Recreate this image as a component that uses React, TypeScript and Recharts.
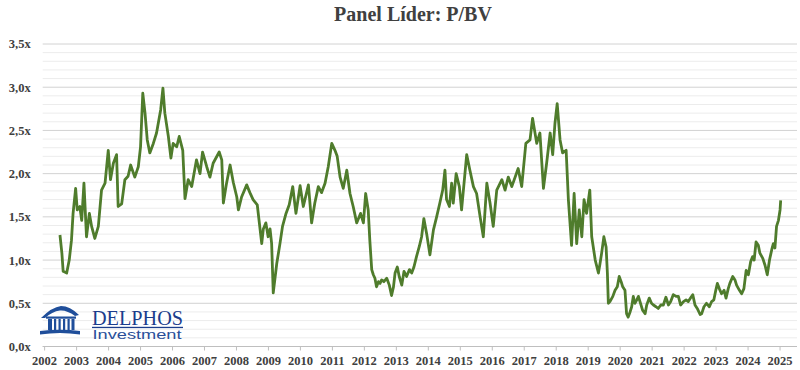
import React from 'react';
import { LineChart, Line, XAxis, YAxis, CartesianGrid } from 'recharts';

const dates: number[] = [
  2002.48, 2002.54, 2002.58, 2002.69, 2002.77, 2002.84, 2002.89, 2002.97, 2003.02, 2003.10,
  2003.16, 2003.23, 2003.31, 2003.40, 2003.47, 2003.57, 2003.68, 2003.78, 2003.89, 2003.99,
  2004.06, 2004.15, 2004.25, 2004.30, 2004.41, 2004.51, 2004.61, 2004.69, 2004.82, 2004.93,
  2005.00, 2005.07, 2005.14, 2005.21, 2005.29, 2005.40, 2005.50, 2005.63, 2005.70, 2005.76,
  2005.87, 2005.95, 2006.02, 2006.13, 2006.21, 2006.32, 2006.39, 2006.49, 2006.60, 2006.75,
  2006.86, 2006.94, 2007.07, 2007.17, 2007.27, 2007.46, 2007.54, 2007.59, 2007.69, 2007.80,
  2007.90, 2008.01, 2008.06, 2008.16, 2008.32, 2008.42, 2008.52, 2008.65, 2008.79, 2008.84,
  2008.92, 2008.99, 2009.05, 2009.10, 2009.15, 2009.26, 2009.36, 2009.44, 2009.55, 2009.65,
  2009.76, 2009.86, 2009.99, 2010.09, 2010.25, 2010.35, 2010.45, 2010.56, 2010.66, 2010.77,
  2010.87, 2010.98, 2011.08, 2011.15, 2011.24, 2011.34, 2011.45, 2011.55, 2011.65, 2011.76,
  2011.88, 2011.97, 2012.04, 2012.12, 2012.17, 2012.23, 2012.28, 2012.33, 2012.38, 2012.44,
  2012.49, 2012.54, 2012.61, 2012.70, 2012.78, 2012.85, 2012.91, 2012.96, 2013.03, 2013.09,
  2013.17, 2013.24, 2013.32, 2013.41, 2013.48, 2013.55, 2013.63, 2013.72, 2013.79, 2013.86,
  2013.95, 2014.05, 2014.16, 2014.26, 2014.36, 2014.45, 2014.52, 2014.57, 2014.66, 2014.73,
  2014.78, 2014.87, 2014.97, 2015.04, 2015.20, 2015.30, 2015.41, 2015.51, 2015.62, 2015.72,
  2015.83, 2015.93, 2016.03, 2016.14, 2016.30, 2016.40, 2016.50, 2016.61, 2016.81, 2016.92,
  2017.05, 2017.18, 2017.26, 2017.39, 2017.49, 2017.60, 2017.70, 2017.81, 2017.89, 2017.96,
  2018.03, 2018.12, 2018.20, 2018.31, 2018.38, 2018.48, 2018.56, 2018.64, 2018.72, 2018.80,
  2018.87, 2018.95, 2019.05, 2019.11, 2019.22, 2019.32, 2019.37, 2019.42, 2019.49, 2019.56,
  2019.60, 2019.63, 2019.68, 2019.77, 2019.84, 2019.91, 2019.97, 2020.03, 2020.08, 2020.15,
  2020.20, 2020.25, 2020.31, 2020.36, 2020.41, 2020.46, 2020.52, 2020.57, 2020.62, 2020.70,
  2020.78, 2020.83, 2020.91, 2020.98, 2021.04, 2021.12, 2021.19, 2021.27, 2021.35, 2021.43,
  2021.51, 2021.58, 2021.66, 2021.75, 2021.82, 2021.89, 2021.98, 2022.06, 2022.13, 2022.20,
  2022.27, 2022.34, 2022.41, 2022.50, 2022.55, 2022.62, 2022.70, 2022.79, 2022.86, 2022.93,
  2022.99, 2023.04, 2023.10, 2023.17, 2023.25, 2023.31, 2023.38, 2023.43, 2023.52, 2023.59,
  2023.64, 2023.73, 2023.80, 2023.87, 2023.94, 2024.01, 2024.08, 2024.14, 2024.19, 2024.25,
  2024.32, 2024.37, 2024.46, 2024.53, 2024.60, 2024.67, 2024.74, 2024.79, 2024.84, 2024.89,
  2024.95, 2025.00, 2025.02,
];

const pbv: number[] = [
  1.29, 1.08, 0.87, 0.85, 1.00, 1.23, 1.54, 1.83, 1.58, 1.62,
  1.46, 1.89, 1.27, 1.54, 1.39, 1.25, 1.39, 1.81, 1.89, 2.27,
  1.93, 2.12, 2.22, 1.62, 1.65, 1.93, 1.97, 2.10, 1.96, 2.08,
  2.31, 2.93, 2.70, 2.39, 2.24, 2.35, 2.47, 2.74, 2.99, 2.70,
  2.43, 2.18, 2.35, 2.31, 2.43, 2.27, 1.71, 1.93, 1.85, 2.16,
  2.00, 2.25, 2.08, 1.96, 2.12, 2.25, 2.16, 1.66, 1.89, 2.10,
  1.90, 1.73, 1.58, 1.73, 1.87, 1.78, 1.70, 1.64, 1.19, 1.36,
  1.43, 1.27, 1.36, 1.19, 0.62, 0.96, 1.19, 1.39, 1.54, 1.64,
  1.85, 1.54, 1.86, 1.62, 1.87, 1.43, 1.66, 1.85, 1.78, 1.89,
  2.08, 2.35, 2.27, 2.20, 1.96, 1.83, 2.04, 1.77, 1.62, 1.43,
  1.54, 1.43, 1.77, 1.58, 1.23, 0.89, 0.83, 0.79, 0.69, 0.75,
  0.73, 0.77, 0.75, 0.79, 0.71, 0.59, 0.69, 0.85, 0.92, 0.81,
  0.71, 0.87, 0.81, 0.89, 0.85, 0.92, 1.04, 1.16, 1.27, 1.48,
  1.30, 1.06, 1.35, 1.50, 1.66, 1.81, 2.04, 1.70, 1.62, 1.89,
  1.66, 2.00, 1.85, 1.58, 2.22, 2.04, 1.85, 1.77, 1.50, 1.27,
  1.89, 1.66, 1.39, 1.81, 1.93, 1.81, 1.96, 1.85, 2.06, 1.85,
  2.35, 2.39, 2.64, 2.35, 2.47, 1.83, 2.12, 2.47, 2.22, 2.58,
  2.81, 2.39, 2.24, 2.27, 1.70, 1.17, 1.77, 1.19, 1.58, 1.27,
  1.70, 1.54, 1.81, 1.27, 1.00, 0.85, 0.96, 1.08, 1.27, 1.15,
  0.85, 0.50, 0.52, 0.58, 0.65, 0.69, 0.81, 0.75, 0.69, 0.65,
  0.38, 0.34, 0.40, 0.46, 0.58, 0.50, 0.54, 0.58, 0.52, 0.42,
  0.38, 0.48, 0.56, 0.50, 0.48, 0.46, 0.44, 0.48, 0.48, 0.57,
  0.48, 0.52, 0.60, 0.58, 0.58, 0.48, 0.52, 0.54, 0.52, 0.56,
  0.60, 0.48, 0.44, 0.37, 0.38, 0.46, 0.50, 0.46, 0.52, 0.54,
  0.65, 0.73, 0.67, 0.61, 0.65, 0.56, 0.67, 0.73, 0.81, 0.77,
  0.71, 0.65, 0.61, 0.67, 0.88, 0.83, 0.98, 1.04, 1.00, 1.21,
  1.17, 1.08, 1.02, 0.94, 0.83, 1.00, 1.12, 1.19, 1.14, 1.39,
  1.46, 1.58, 1.69,
];

const yearTicks: number[] = [
  2002, 2003, 2004, 2005, 2006, 2007, 2008, 2009, 2010, 2011, 2012, 2013,
  2014, 2015, 2016, 2017, 2018, 2019, 2020, 2021, 2022, 2023, 2024, 2025,
];
const majorTicks: number[] = [0, 0.5, 1, 1.5, 2, 2.5, 3, 3.5];
const minorTicks: number[] = [
  0.1, 0.2, 0.3, 0.4, 0.6, 0.7, 0.8, 0.9, 1.1, 1.2, 1.3, 1.4, 1.6, 1.7, 1.8, 1.9,
  2.1, 2.2, 2.3, 2.4, 2.6, 2.7, 2.8, 2.9, 3.1, 3.2, 3.3, 3.4,
];

const data = dates.map((t, i) => ({ t, v: pbv[i] }));

const tickFont = {
  fontFamily: '"Liberation Serif", "Times New Roman", serif',
  fontSize: 12.5,
  fontWeight: 700,
  fill: '#404040',
};

const Logo = () => (
  <svg
    width={800}
    height={370}
    style={{ position: 'absolute', left: 0, top: 0, pointerEvents: 'none' }}
  >
    <g fill="#1f4e9a">
      <path d="M41 318 Q 52 307 61 306 Q 70 306 79 315 L 75 316 Q 67 310 60 310.5 Q 52 311.5 45 318 Z" />
      <rect x={46} y={316.5} width={30} height={2.2} />
      <rect x={48} y={319} width={4} height={11} />
      <rect x={54} y={319} width={2.2} height={11} />
      <rect x={58.5} y={319} width={2.2} height={11} />
      <rect x={63} y={319} width={2.2} height={11} />
      <rect x={67.5} y={319} width={2.2} height={11} />
      <rect x={71.5} y={319} width={3} height={11} />
      <path d="M40 331 Q 60 328.5 80 331 L 80 334.5 Q 60 331.5 40 334.5 Z" />
    </g>
    <text
      x={92}
      y={324.5}
      textLength={91}
      lengthAdjust="spacingAndGlyphs"
      fill="#1b3c8c"
      style={{ fontFamily: '"Liberation Serif", "Times New Roman", serif', fontSize: 20 }}
    >
      DELPHOS
    </text>
    <rect x={92} y={326.8} width={91} height={1.3} fill="#1b3c8c" />
    <text
      x={92.5}
      y={339}
      textLength={89}
      lengthAdjust="spacingAndGlyphs"
      fill="#2a4f9a"
      style={{ fontFamily: '"Liberation Sans", Arial, sans-serif', fontSize: 13.5 }}
    >
      Investment
    </text>
  </svg>
);

export default function App() {
  return (
    <div
      style={{
        position: 'absolute',
        left: 0,
        top: 0,
        width: 800,
        height: 370,
        background: '#ffffff',
        overflow: 'hidden',
      }}
    >
      <div
        style={{
          position: 'absolute',
          left: 0,
          top: 4,
          width: 826,
          textAlign: 'center',
          fontFamily: '"Liberation Serif", "Times New Roman", serif',
          fontWeight: 700,
          fontSize: 20,
          lineHeight: '20px',
          color: '#404040',
          whiteSpace: 'nowrap',
        }}
      >
        Panel Líder: P/BV
      </div>
      <LineChart
        width={800}
        height={370}
        data={data}
        margin={{ top: 44, right: 3, bottom: 0, left: 0 }}
      >
        <CartesianGrid
          vertical={false}
          horizontalValues={minorTicks}
          stroke="#ececec"
          strokeWidth={1}
        />
        <CartesianGrid
          vertical={false}
          horizontalValues={majorTicks}
          stroke="#d2d2d2"
          strokeWidth={1}
        />
        <XAxis
          dataKey="t"
          type="number"
          scale="linear"
          domain={[2001.94, 2025.53]}
          ticks={yearTicks}
          interval={0}
          height={23.5}
          tickSize={4}
          tickMargin={6}
          axisLine={{ stroke: '#bfbfbf' }}
          tickLine={{ stroke: '#bfbfbf' }}
          tick={tickFont}
          tickFormatter={(v: number) => String(v)}
          allowDataOverflow
        />
        <YAxis
          type="number"
          domain={[0, 3.5]}
          ticks={majorTicks}
          interval={0}
          width={42.7}
          tickSize={0}
          tickMargin={12}
          axisLine={false}
          tickLine={false}
          tick={tickFont}
          tickFormatter={(v: number) => v.toFixed(1).replace('.', ',') + 'x'}
          allowDataOverflow
        />
        <Line
          type="linear"
          dataKey="v"
          stroke="#4f7c2c"
          strokeWidth={2.8}
          dot={false}
          activeDot={false}
          isAnimationActive={false}
          strokeLinejoin="round"
        />
      </LineChart>
      <Logo />
    </div>
  );
}
